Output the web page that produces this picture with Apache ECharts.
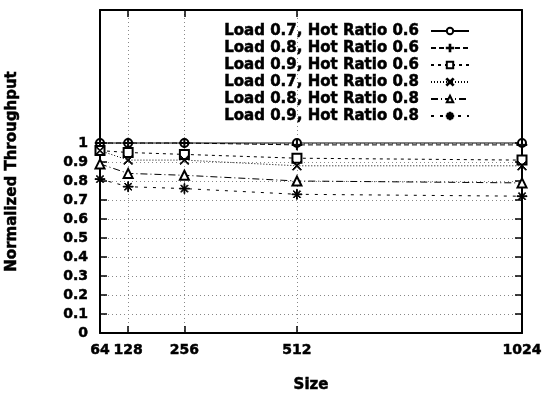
<!DOCTYPE html>
<html>
<head>
<meta charset="utf-8">
<script src="https://cdn.jsdelivr.net/npm/echarts@6/dist/echarts.min.js"></script>
<style>
  html, body { margin: 0; padding: 0; background: #fff; }
  #chart { width: 556px; height: 395px; }
</style>
</head>
<body>
<div id="chart"></div>
<script>
// x values (message size) and y ticks
const sizes = [64, 128, 256, 512, 1024];
const yTicks = [0, 0.1, 0.2, 0.3, 0.4, 0.5, 0.6, 0.7, 0.8, 0.9, 1];

// normalized throughput
const load07hr06 = [1.0, 1.0, 1.0, 1.0, 1.0];
const load08hr06 = [1.0, 1.0, 1.0, 0.99, 0.99];
const load09hr06 = [0.96, 0.95, 0.94, 0.92, 0.91];
const load07hr08 = [0.96, 0.91, 0.91, 0.88, 0.88];
const load08hr08 = [0.89, 0.84, 0.83, 0.80, 0.79];
const load09hr08 = [0.81, 0.77, 0.76, 0.73, 0.72];

const names = [
  "Load 0.7, Hot Ratio 0.6",
  "Load 0.8, Hot Ratio 0.6",
  "Load 0.9, Hot Ratio 0.6",
  "Load 0.7, Hot Ratio 0.8",
  "Load 0.8, Hot Ratio 0.8",
  "Load 0.9, Hot Ratio 0.8"
];

// marker shapes (filled paths)
const plusPath = "path://M4.5,0h1v4.5h4.5v1h-4.5v4.5h-1v-4.5h-4.5v-1h4.5z";
const crossPath = "path://M0,0.8L0.8,0L5,4.2L9.2,0L10,0.8L5.8,5L10,9.2L9.2,10L5,5.8L0.8,10L0,9.2L4.2,5z";
const starPath = "path://M4.6,0h0.8v4.6h4.6v0.8h-4.6v4.6h-0.8v-4.6h-4.6v-0.8h4.6z" +
  "M1.3,1.9L1.9,1.3L5,4.4L8.1,1.3L8.7,1.9L5.6,5L8.7,8.1L8.1,8.7L5,5.6L1.9,8.7L1.3,8.1L4.4,5z";

const font = "DejaVu Sans";
const black = "#000";
// heavy print-like text
const heavy = { fontFamily: font, fontWeight: "bold", color: black, textBorderColor: black, textBorderWidth: 0.5 };

function makeSeries(name, values, symbol, size, dash) {
  return {
    name: name,
    type: "line",
    data: sizes.map((s, i) => [s, values[i]]),
    symbol: symbol,
    symbolSize: size,
    showAllSymbol: true,
    lineStyle: { color: black, width: 1, type: dash },
    itemStyle: { color: black, borderColor: black, borderWidth: 1 },
    z: 5
  };
}

const chart = echarts.init(document.getElementById("chart"));
const option = {
  animation: false,
  backgroundColor: "#fff",
  grid: { left: 100, right: 34, top: 10, bottom: 62, show: false, outerBoundsMode: "none", containLabel: false },
  legend: {
    orient: "vertical",
    right: 81,
    top: 18,
    align: "right",
    itemWidth: 38,
    itemHeight: 8,
    itemGap: 1,
    textStyle: Object.assign({ fontSize: 15, lineHeight: 16, padding: [0, 7, 0, 0] }, heavy),
    data: names
  },
  xAxis: [
    {
      type: "value",
      min: 64,
      max: 1024,
      name: "Size",
      nameLocation: "middle",
      nameGap: 45,
      nameTextStyle: Object.assign({ fontSize: 15 }, heavy),
      axisLine: { show: true, onZero: false, lineStyle: { color: black, width: 2 } },
      axisTick: { show: true, inside: true, length: 7, customValues: sizes, lineStyle: { color: black, width: 1.5 } },
      axisLabel: Object.assign({ customValues: sizes, margin: 10, fontSize: 14, hideOverlap: false, formatter: v => String(v) }, heavy),
      splitLine: { show: true, lineStyle: { color: "#888", type: [1, 3], width: 1 } }
    },
    {
      type: "value",
      position: "top",
      min: 64,
      max: 1024,
      axisLine: { show: true, onZero: false, lineStyle: { color: black, width: 2 } },
      axisTick: { show: true, inside: true, length: 7, customValues: sizes, lineStyle: { color: black, width: 1.5 } },
      axisLabel: { show: false },
      splitLine: { show: false }
    }
  ],
  yAxis: [
    {
      type: "value",
      min: 0,
      max: 1.7,
      name: "Normalized Throughput",
      nameLocation: "middle",
      nameGap: 80,
      nameTextStyle: Object.assign({ fontSize: 15 }, heavy),
      axisLine: { show: true, onZero: false, lineStyle: { color: black, width: 2 } },
      axisTick: { show: true, inside: true, length: 7, customValues: yTicks, lineStyle: { color: black, width: 1.5 } },
      axisLabel: Object.assign({ customValues: yTicks, margin: 12, fontSize: 14 }, heavy),
      splitLine: { show: true, lineStyle: { color: "#888", type: [1, 3], width: 1 } }
    },
    {
      type: "value",
      position: "right",
      min: 0,
      max: 1.7,
      axisLine: { show: true, onZero: false, lineStyle: { color: black, width: 2 } },
      axisTick: { show: true, inside: true, length: 7, customValues: yTicks, lineStyle: { color: black, width: 1.5 } },
      axisLabel: { show: false },
      splitLine: { show: false }
    }
  ],
  series: [
    makeSeries(names[0], load07hr06, "emptyCircle", 8, "solid"),
    makeSeries(names[1], load08hr06, plusPath, 10, [5, 3]),
    makeSeries(names[2], load09hr06, "emptyRect", 9, [3, 4]),
    makeSeries(names[3], load07hr08, crossPath, 9, [1, 2]),
    makeSeries(names[4], load08hr08, "emptyTriangle", 9, [7, 3, 1, 3]),
    makeSeries(names[5], load09hr08, starPath, 10, [3, 6])
  ]
};
chart.setOption(option);
</script>
</body>
</html>
